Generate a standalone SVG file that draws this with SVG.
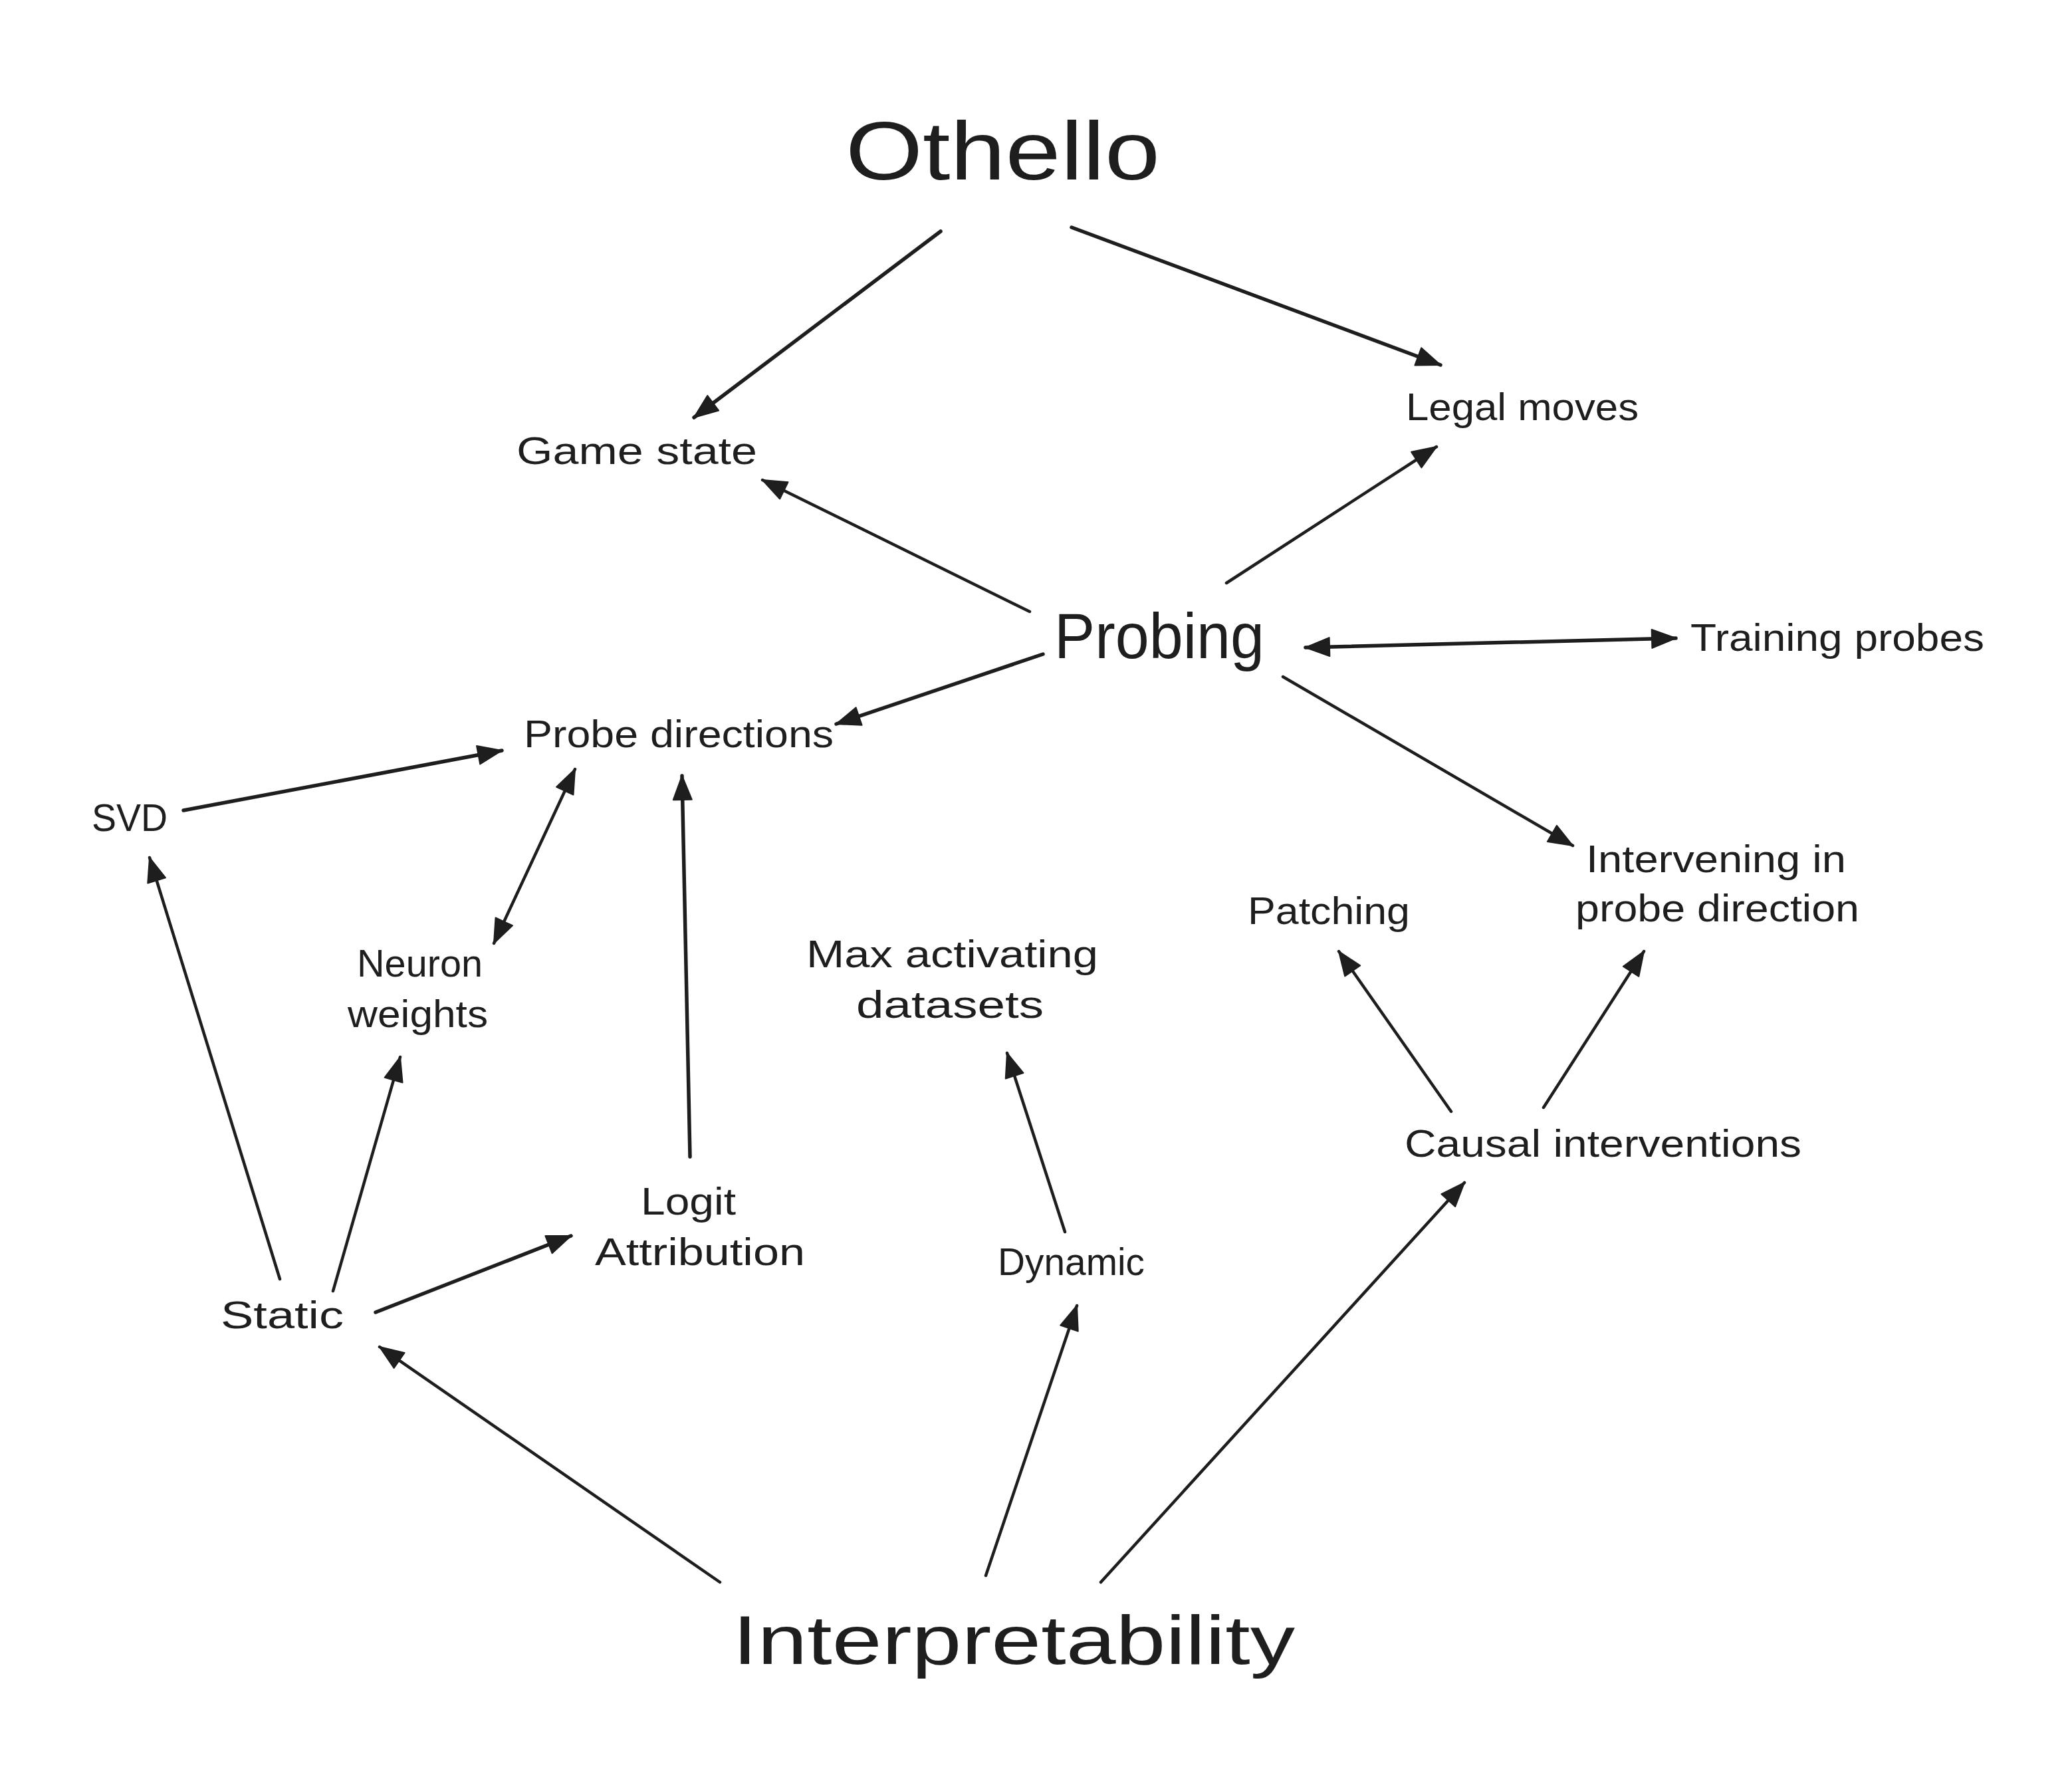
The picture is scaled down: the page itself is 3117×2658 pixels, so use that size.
<svg xmlns="http://www.w3.org/2000/svg" width="3117" height="2658" viewBox="0 0 3117 2658">
<style>
.t{font-family:"Liberation Sans","DejaVu Sans",sans-serif;fill:#1e1e1e}
.m{font-size:58px}
.c{stroke:#1e1e1e;stroke-width:4.5;fill:none;stroke-linecap:round}
.b{stroke-width:5.5}
</style>
<defs>
<marker id="ah" markerUnits="userSpaceOnUse" markerWidth="44" markerHeight="34" refX="38" refY="16" orient="auto-start-reverse">
<path d="M2,2 L38,16 L2,30 z" fill="#1e1e1e" stroke="#1e1e1e" stroke-width="2" stroke-linejoin="round"/>
</marker>
</defs>
<rect width="3117" height="2658" fill="#ffffff"/>
<g id="connectors">
<line class="c b" x1="1415" y1="348" x2="1044" y2="628" marker-end="url(#ah)"/>
<line class="c b" x1="1612" y1="342" x2="2167" y2="549" marker-end="url(#ah)"/>
<line class="c" x1="1549" y1="920" x2="1147" y2="722" marker-end="url(#ah)"/>
<line class="c" x1="1845" y1="877" x2="2161" y2="672" marker-end="url(#ah)"/>
<line class="c b" x1="1964" y1="974" x2="2521" y2="960" marker-start="url(#ah)" marker-end="url(#ah)"/>
<line class="c b" x1="1569" y1="984" x2="1258" y2="1089" marker-end="url(#ah)"/>
<line class="c" x1="1930" y1="1018" x2="2366" y2="1272" marker-end="url(#ah)"/>
<line class="c b" x1="276" y1="1219" x2="755" y2="1129" marker-end="url(#ah)"/>
<line class="c" x1="865" y1="1157" x2="743" y2="1419" marker-start="url(#ah)" marker-end="url(#ah)"/>
<line class="c b" x1="1038" y1="1740" x2="1026" y2="1167" marker-end="url(#ah)"/>
<line class="c" x1="421" y1="1924" x2="225" y2="1290" marker-end="url(#ah)"/>
<line class="c" x1="501" y1="1942" x2="602" y2="1590" marker-end="url(#ah)"/>
<line class="c b" x1="565" y1="1974" x2="859" y2="1859" marker-end="url(#ah)"/>
<line class="c" x1="1602" y1="1853" x2="1515" y2="1584" marker-end="url(#ah)"/>
<line class="c" x1="2183" y1="1672" x2="2014" y2="1431" marker-end="url(#ah)"/>
<line class="c" x1="2322" y1="1666" x2="2473" y2="1431" marker-end="url(#ah)"/>
<line class="c" x1="1083" y1="2380" x2="571" y2="2026" marker-end="url(#ah)"/>
<line class="c" x1="1483" y1="2370" x2="1620" y2="1964" marker-end="url(#ah)"/>
<line class="c" x1="1656" y1="2380" x2="2203" y2="1779" marker-end="url(#ah)"/>
</g>
<g id="othello"><text class="t" x="1272" y="270" font-size="125" textLength="473" lengthAdjust="spacingAndGlyphs">Othello</text></g>
<g id="game-state"><text class="t m" x="777" y="698" textLength="362" lengthAdjust="spacingAndGlyphs">Game state</text></g>
<g id="legal-moves"><text class="t m" x="2115" y="632" textLength="350" lengthAdjust="spacingAndGlyphs">Legal moves</text></g>
<g id="probing"><text class="t" x="1586" y="990" font-size="97" textLength="316" lengthAdjust="spacingAndGlyphs">Probing</text></g>
<g id="training-probes"><text class="t m" x="2543" y="979" textLength="442" lengthAdjust="spacingAndGlyphs">Training probes</text></g>
<g id="probe-directions"><text class="t m" x="788" y="1124" textLength="466" lengthAdjust="spacingAndGlyphs">Probe directions</text></g>
<g id="svd"><text class="t m" x="138" y="1250" textLength="114" lengthAdjust="spacingAndGlyphs">SVD</text></g>
<g id="intervening"><text class="t m" x="2386" y="1312" textLength="391" lengthAdjust="spacingAndGlyphs">Intervening in</text><text class="t m" x="2370" y="1386" textLength="427" lengthAdjust="spacingAndGlyphs">probe direction</text></g>
<g id="patching"><text class="t m" x="1877" y="1390" textLength="244" lengthAdjust="spacingAndGlyphs">Patching</text></g>
<g id="neuron-weights"><text class="t m" x="537" y="1469" textLength="189" lengthAdjust="spacingAndGlyphs">Neuron</text><text class="t m" x="523" y="1545" textLength="211" lengthAdjust="spacingAndGlyphs">weights</text></g>
<g id="max-activating"><text class="t m" x="1213" y="1455" textLength="439" lengthAdjust="spacingAndGlyphs">Max activating</text><text class="t m" x="1288" y="1531" textLength="282" lengthAdjust="spacingAndGlyphs">datasets</text></g>
<g id="causal-interventions"><text class="t m" x="2113" y="1740" textLength="597" lengthAdjust="spacingAndGlyphs">Causal interventions</text></g>
<g id="logit-attribution"><text class="t m" x="964" y="1827" textLength="143" lengthAdjust="spacingAndGlyphs">Logit</text><text class="t m" x="895" y="1903" textLength="316" lengthAdjust="spacingAndGlyphs">Attribution</text></g>
<g id="static"><text class="t m" x="332" y="1998" textLength="185" lengthAdjust="spacingAndGlyphs">Static</text></g>
<g id="dynamic"><text class="t m" x="1501" y="1918" textLength="221" lengthAdjust="spacingAndGlyphs">Dynamic</text></g>
<g id="interpretability"><text class="t" x="1102" y="2503" font-size="104" textLength="846" lengthAdjust="spacingAndGlyphs">Interpretability</text></g>
</svg>
